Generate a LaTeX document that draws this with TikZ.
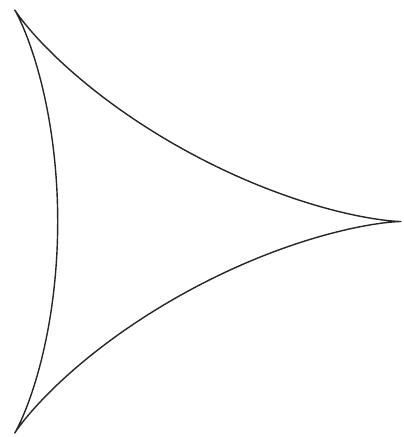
\documentclass[tikz,border=0pt]{standalone}
\begin{document}
\begin{tikzpicture}[x=1pt,y=-1pt,curve/.style={draw=black!85,line width=1.4pt,line join=round}]
\useasboundingbox (0,0) rectangle (404,437);
\fill[white] (0,0) rectangle (404,437);
\draw[curve] plot[domain=0:360,samples=721,variable=\t]
  ({143.5+85.8*(2*cos(\t)+cos(2*\t))},{221.5-81.4*(2*sin(\t)-sin(2*\t))}) -- cycle;
\end{tikzpicture}
\end{document}
